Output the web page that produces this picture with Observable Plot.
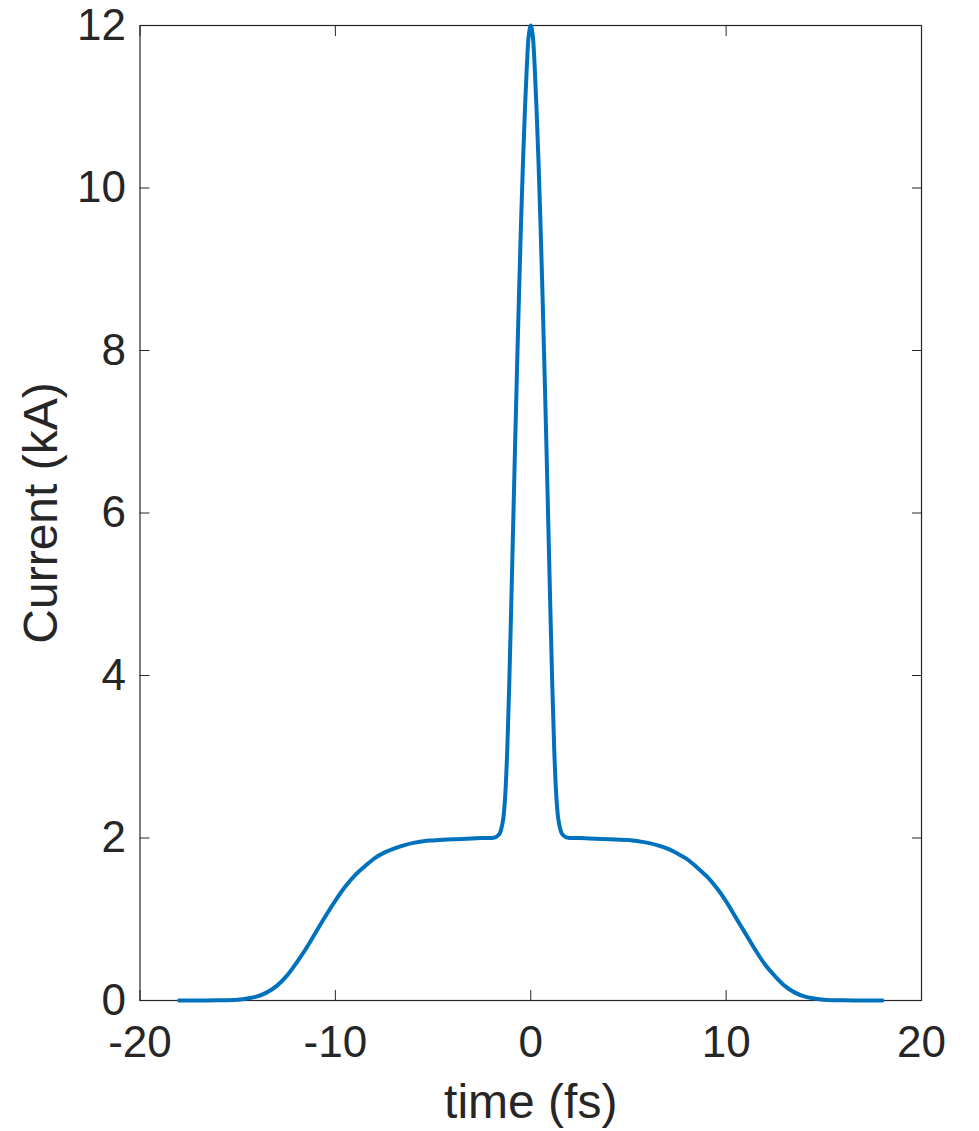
<!DOCTYPE html>
<html>
<head>
<meta charset="utf-8">
<script src="https://cdn.jsdelivr.net/npm/d3@7"></script>
<script src="https://cdn.jsdelivr.net/npm/@observablehq/plot@0.6"></script>
<style>
  html, body { margin: 0; padding: 0; background: #ffffff; }
  #chart svg { display: block; }
</style>
</head>
<body>
<div id="chart"></div>
<script>
// time axis (fs)
const time = [
  -18, -17, -16, -15, -14.5, -14, -13.5, -13, -12.5, -12, -11.5, -11, -10.5, -10,
  -9.5, -9, -8.5, -8, -7.5, -7, -6.5, -6, -5.5, -5, -4, -3, -2.5, -2, -1.8, -1.6,
  -1.5, -1.4, -1.3, -1.2, -1.1, -1.0, -0.9, -0.8, -0.7, -0.6, -0.5, -0.4, -0.3,
  -0.2, -0.1, 0,
  0.1, 0.2, 0.3, 0.4, 0.5, 0.6, 0.7, 0.8, 0.9, 1.0, 1.1, 1.2, 1.3, 1.4, 1.5, 1.6,
  1.8, 2, 2.5, 3, 4, 5, 5.5, 6, 6.5, 7, 7.5, 8, 8.5, 9, 9.5, 10, 10.5, 11, 11.5,
  12, 12.5, 13, 13.5, 14, 14.5, 15, 16, 17, 18
];
// current (kA)
const current = [
  0, 0, 0.002, 0.01, 0.025, 0.05, 0.1, 0.18, 0.3, 0.46, 0.64, 0.84, 1.04, 1.23,
  1.40, 1.54, 1.65, 1.75, 1.82, 1.87, 1.91, 1.94, 1.96, 1.97, 1.985, 1.995, 2.0, 2.0, 2.01, 2.05,
  2.12, 2.25, 2.55, 3.1, 3.9, 4.85, 5.85, 6.85, 7.8, 8.7, 9.55, 10.3, 10.95,
  11.5, 11.88, 12,
  11.88, 11.5, 10.95, 10.3, 9.55, 8.7, 7.8, 6.85, 5.85, 4.85, 3.9, 3.1, 2.55, 2.25, 2.12, 2.05,
  2.01, 2.0, 2.0, 1.995, 1.985, 1.975, 1.96, 1.94, 1.91, 1.87, 1.81, 1.74, 1.64, 1.53, 1.39, 1.22, 1.02, 0.82, 0.62,
  0.44, 0.3, 0.18, 0.1, 0.05, 0.025, 0.01, 0.002, 0, 0
];
const xTicks = [-20, -10, 0, 10, 20];
const yTicks = [0, 2, 4, 6, 8, 10, 12];
const xLabel = "time (fs)";
const yLabel = "Current (kA)";

const data = time.map((t, i) => ({t, I: current[i]}));
const axisColor = "#262626";
const fmt = d => String(d); // plain hyphen-minus like the reference

const chart = Plot.plot({
  width: 979,
  height: 1131,
  marginLeft: 139.5,
  marginRight: 58,
  marginTop: 25,
  marginBottom: 131,
  style: {fontFamily: "'Liberation Sans', Arial, Helvetica, sans-serif", color: axisColor, background: "#ffffff"},
  x: {domain: [-20, 20]},
  y: {domain: [0, 12]},
  marks: [
    Plot.frame({stroke: axisColor, strokeWidth: 1.2}),
    Plot.axisX({anchor: "bottom", ticks: xTicks, tickFormat: fmt, tickSize: -10, tickPadding: 35, fontSize: 44, label: null, stroke: axisColor}),
    Plot.axisX({anchor: "top", ticks: xTicks, tickSize: -10, tickFormat: () => "", label: null, stroke: axisColor}),
    Plot.axisY({anchor: "left", ticks: yTicks, tickFormat: fmt, tickSize: -10, tickPadding: 24, fontSize: 44, label: null, stroke: axisColor}),
    Plot.axisY({anchor: "right", ticks: yTicks, tickSize: -10, tickFormat: () => "", label: null, stroke: axisColor}),
    Plot.line(data, {x: "t", y: "I", stroke: "#0072BD", strokeWidth: 4, curve: "catmull-rom"}),
    Plot.text([xLabel], {text: d => d, frameAnchor: "bottom", dy: 102, fontSize: 48, textAnchor: "middle", lineAnchor: "middle", fill: axisColor}),
    Plot.text([yLabel], {text: d => d, frameAnchor: "left", dx: -98, rotate: -90, fontSize: 48, textAnchor: "middle", lineAnchor: "middle", fill: axisColor})
  ]
});
document.getElementById("chart").appendChild(chart);
</script>
</body>
</html>
